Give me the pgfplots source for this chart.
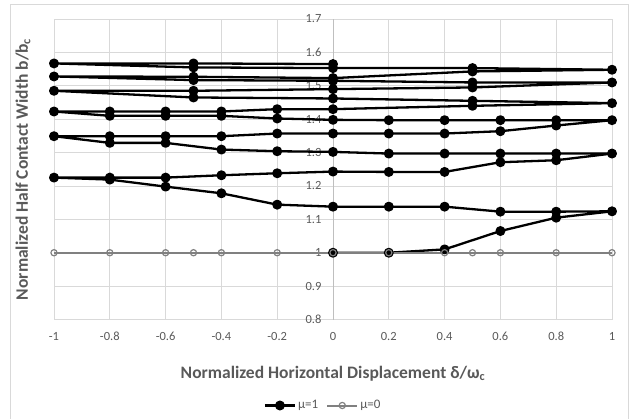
\documentclass[border=0pt]{standalone}
\usepackage{fontspec}
\setmainfont{Carlito}
\usepackage{pgfplots}
\pgfplotsset{compat=1.18}
\definecolor{gridc}{HTML}{D9D9D9}
\definecolor{axc}{HTML}{BFBFBF}
\definecolor{txt}{HTML}{595959}
\definecolor{ser0}{HTML}{808080}
\begin{document}
\begin{tikzpicture}
\path[use as bounding box] (-54bp,-99.5bp) rectangle (575bp,319.5bp);
\draw[color=gridc, line width=0.75bp] (-44bp,-130bp) rectangle (574bp,315.5bp);
\begin{axis}[
  at={(0,0)}, anchor=south west,
  scale only axis, width=558bp, height=300.5bp,
  xmin=-1, xmax=1, ymin=0.8, ymax=1.7,
  axis x line*=bottom, axis y line*=middle,
  hide obscured x ticks=false, hide obscured y ticks=false,
  xtick={-1,-0.8,-0.6,-0.4,-0.2,0,0.2,0.4,0.6,0.8,1},
  xticklabels={-1,-0.8,-0.6,-0.4,-0.2,0,0.2,0.4,0.6,0.8,1},
  ytick={0.8,0.9,1,1.1,1.2,1.3,1.4,1.5,1.6,1.7},
  yticklabels={0.8,0.9,1,1.1,1.2,1.3,1.4,1.5,1.6,1.7},
  extra x ticks={0}, extra x tick labels={},
  extra x tick style={grid style={color=axc, line width=0.9bp}},
  major tick length=0pt,
  grid=major,
  grid style={color=gridc, line width=0.75bp},
  axis line style={draw=none},
  tick label style={font=\fontsize{12.5bp}{15bp}\selectfont, text=txt},
  xticklabel style={yshift=-9bp},
  yticklabel style={anchor=east, xshift=-8bp},
  xlabel={\bfseries Normalized Horizontal Displacement δ/ω\textsubscript{c}},
  xlabel style={font=\fontsize{17.5bp}{20bp}\selectfont, text=txt, at={(rel axis cs:0.5,-0.1797)}, anchor=center},
  ylabel={\bfseries Normalized Half Contact Width b/b\textsubscript{c}},
  ylabel style={font=\fontsize{17.5bp}{20bp}\selectfont, text=txt, at={(rel axis cs:-0.0556,0.5)}, anchor=center},
  legend style={at={(rel axis cs:0.4823,-0.2862)}, anchor=center, draw=none, fill=none,
    font=\fontsize{13bp}{15bp}\selectfont, text=txt,
    /tikz/every even column/.append style={column sep=6bp}},
  legend columns=2,
  legend image code/.code={\draw[mark repeat=2,mark phase=2,#1] plot coordinates {(0bp,0bp) (15bp,0bp) (30bp,0bp)};},
]
\addplot[black, line width=2.3bp, line join=round, mark=*, mark size=3.8bp, mark options={solid, fill=black}] coordinates {
(0,1.000) (0.2,1.000) (0.4,1.010) (0.6,1.065) (0.8,1.105) (1,1.124)
(0.8,1.123) (0.6,1.123) (0.4,1.138) (0.2,1.138) (0,1.138) (-0.2,1.144) (-0.4,1.178) (-0.6,1.198) (-0.8,1.219) (-1,1.225)
(-0.8,1.225) (-0.6,1.225) (-0.4,1.232) (-0.2,1.238) (0,1.243) (0.2,1.242) (0.4,1.242) (0.6,1.271) (0.8,1.277) (1,1.297)
(0.8,1.297) (0.6,1.297) (0.4,1.297) (0.2,1.297) (0,1.302) (-0.2,1.304) (-0.4,1.309) (-0.6,1.329) (-0.8,1.329) (-1,1.349)
(-0.8,1.349) (-0.6,1.349) (-0.4,1.349) (-0.2,1.357) (0,1.357) (0.2,1.357) (0.4,1.357) (0.6,1.364) (0.8,1.381) (1,1.397)
(0.8,1.397) (0.6,1.397) (0.4,1.397) (0.2,1.397) (0,1.398) (-0.2,1.402) (-0.4,1.410) (-0.6,1.410) (-0.8,1.410) (-1,1.423)
(-0.8,1.423) (-0.6,1.423) (-0.4,1.423) (-0.2,1.430) (0,1.430) (0.5,1.440) (1,1.448)
(0.5,1.455) (0,1.462) (-0.5,1.465) (-1,1.485)
(-0.5,1.485) (0,1.490) (0.5,1.495) (1,1.510)
(0.5,1.510) (0,1.515) (-0.5,1.517) (-1,1.528)
(-0.5,1.527) (0,1.523) (0.5,1.543) (1,1.548)
(0.5,1.553) (0,1.553) (-0.5,1.555) (-1,1.567)
(-0.5,1.567) (0,1.565)
};
\addlegendentry{μ=1}
\addplot[ser0, line width=2bp, mark=o, mark size=3.1bp, mark options={solid, line width=1.2bp}] coordinates {
(-1,1) (-0.8,1) (-0.6,1) (-0.5,1) (-0.4,1) (-0.2,1) (0,1) (0.2,1) (0.4,1) (0.5,1) (0.6,1) (0.8,1) (1,1)
};
\addlegendentry{μ=0}
\end{axis}
\end{tikzpicture}
\end{document}
